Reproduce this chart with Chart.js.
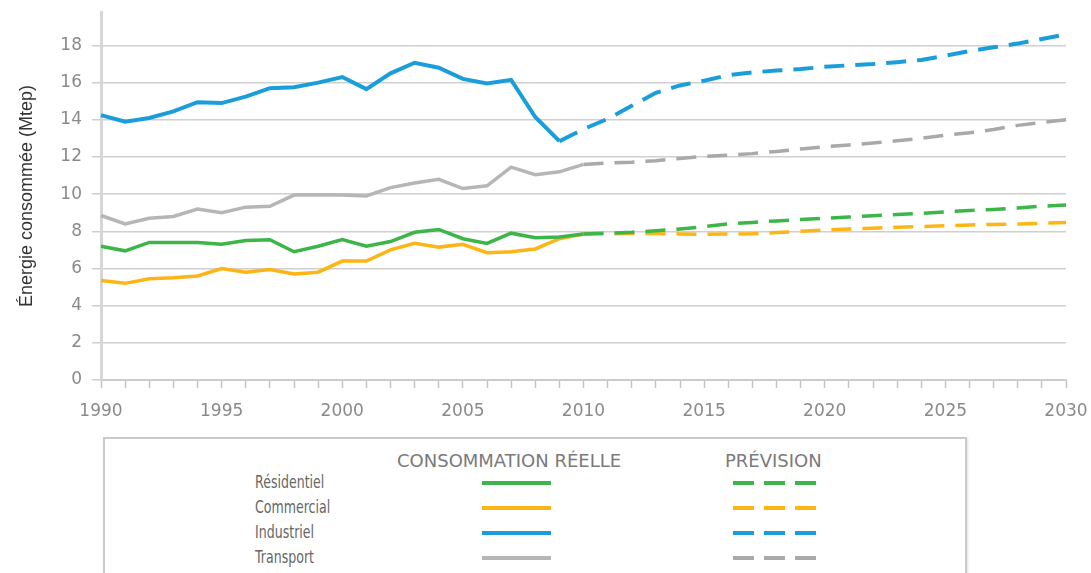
<!DOCTYPE html>
<html>
<head>
    <title>Consommation d'énergie par secteur</title>
    <script src="https://cdn.jsdelivr.net/npm/chart.js"></script>
    <style>
        body { margin: 0; width: 1091px; height: 573px; overflow: hidden; background: white; position: relative; }
        #wrap { position: absolute; left: 0; top: 0; width: 1091px; height: 430px; }
        .legende {
            position: absolute; left: 103px; top: 437px; width: 860px; height: 160px;
            border: 2px solid #cbcbcb; box-shadow: 1px 1px 2px #e0e0e0;
        }
        .entete { position: absolute; top: 450px; font-family: "DejaVu Sans"; font-size: 18px; line-height: 22px; color: #7a7a7a; white-space: nowrap; }
        .nom {
            position: absolute; left: 255px; font-family: "DejaVu Sans"; font-size: 17px; line-height: 20px;
            color: #666; white-space: nowrap; transform: scaleX(0.74); transform-origin: left center;
        }
        .trait { position: absolute; height: 4px; }
    </style>
</head>
<body>
    <div id="wrap"><canvas id="graphe" width="1091" height="430"></canvas></div>
    <div class="legende"></div>
    <div class="entete" style="left:397px">CONSOMMATION RÉELLE</div>
    <div class="entete" style="left:725px">PRÉVISION</div>
    <div id="lignes"></div>

    <script>
        // Années (axe horizontal)
        const annees = [1990, 1991, 1992, 1993, 1994, 1995, 1996, 1997, 1998, 1999,
                        2000, 2001, 2002, 2003, 2004, 2005, 2006, 2007, 2008, 2009,
                        2010, 2011, 2012, 2013, 2014, 2015, 2016, 2017, 2018, 2019,
                        2020, 2021, 2022, 2023, 2024, 2025, 2026, 2027, 2028, 2029, 2030];
        const etiquettesX = [1990, 1995, 2000, 2005, 2010, 2015, 2020, 2025, 2030];

        // Consommation réelle (Mtep), à partir de 1990
        const residentielReel = [7.2, 6.95, 7.4, 7.4, 7.4, 7.3, 7.5, 7.55, 6.9, 7.2, 7.55, 7.2, 7.45, 7.95, 8.1, 7.6, 7.35, 7.9, 7.65, 7.7, 7.85];
        const commercialReel = [5.35, 5.2, 5.45, 5.5, 5.6, 6.0, 5.8, 5.95, 5.7, 5.8, 6.4, 6.4, 7.0, 7.35, 7.15, 7.3, 6.85, 6.9, 7.05, 7.6, 7.85];
        const industrielReel = [14.25, 13.9, 14.1, 14.45, 14.95, 14.9, 15.25, 15.7, 15.75, 16.0, 16.3, 15.65, 16.5, 17.07, 16.8, 16.2, 15.95, 16.15, 14.15, 12.85];
        const transportReel = [8.85, 8.4, 8.7, 8.8, 9.2, 9.0, 9.3, 9.35, 9.95, 9.95, 9.95, 9.9, 10.35, 10.6, 10.8, 10.3, 10.45, 11.45, 11.05, 11.2, 11.6];

        // Prévisions (Mtep)
        const debutPrev = 2010;
        const debutPrevIndustriel = 2009;
        const residentielPrev = [7.85, 7.9, 7.95, 8.03, 8.13, 8.25, 8.4, 8.48, 8.56, 8.63, 8.7, 8.77, 8.84, 8.9, 8.97, 9.05, 9.12, 9.18, 9.26, 9.35, 9.42];
        const commercialPrev = [7.85, 7.87, 7.88, 7.88, 7.86, 7.84, 7.85, 7.87, 7.93, 8.0, 8.07, 8.12, 8.17, 8.22, 8.26, 8.3, 8.34, 8.37, 8.4, 8.43, 8.47];
        const industrielPrev = [12.85, 13.5, 14.05, 14.75, 15.45, 15.85, 16.1, 16.4, 16.55, 16.65, 16.73, 16.85, 16.93, 17.0, 17.1, 17.22, 17.45, 17.7, 17.9, 18.1, 18.35, 18.6];
        const transportPrev = [11.6, 11.67, 11.72, 11.8, 11.92, 12.03, 12.1, 12.18, 12.3, 12.43, 12.55, 12.65, 12.75, 12.87, 13.0, 13.17, 13.3, 13.48, 13.7, 13.85, 14.0];

        const secteurs = ['Résidentiel', 'Commercial', 'Industriel', 'Transport'];
        const couleurs = ['#3cb549', '#fdb515', '#1a9edb', '#b6b6b8'];
        const couleursPrev = ['#3cb549', '#fdb515', '#1a9edb', '#a9a9ab'];
        const tirets = [20, 11];

        // place une série sur l'axe des années
        function placer(valeurs, debut) {
            return annees.map(a => (a >= debut && a - debut < valeurs.length) ? valeurs[a - debut] : null);
        }

        const reels = [residentielReel, commercialReel, industrielReel, transportReel];
        const prevs = [residentielPrev, commercialPrev, industrielPrev, transportPrev];
        const debuts = [debutPrev, debutPrev, debutPrevIndustriel, debutPrev];

        const datasets = [];
        secteurs.forEach((s, i) => {
            datasets.push({
                label: s, data: placer(reels[i], 1990),
                borderColor: couleurs[i], borderWidth: i === 2 ? 4 : 3.5,
                pointRadius: 0, tension: 0, fill: false
            });
        });
        secteurs.forEach((s, i) => {
            datasets.push({
                label: s + ' (prévision)', data: placer(prevs[i], debuts[i]),
                borderColor: couleursPrev[i], borderWidth: i === 2 ? 4 : 3.5,
                borderDash: tirets, pointRadius: 0, tension: 0, fill: false
            });
        });

        new Chart(document.getElementById('graphe'), {
            type: 'line',
            data: { labels: annees, datasets: datasets },
            options: {
                responsive: false,
                animation: false,
                layout: { padding: { top: 12, right: 25, left: 0, bottom: 0 } },
                plugins: { legend: { display: false }, tooltip: { enabled: false } },
                scales: {
                    x: {
                        ticks: {
                            autoSkip: false, maxRotation: 0, padding: 13,
                            color: '#8a8a8a', font: { family: 'DejaVu Sans', size: 17 },
                            callback: function (v) {
                                const a = annees[v];
                                return etiquettesX.includes(a) ? String(a) : '';
                            }
                        },
                        grid: { drawOnChartArea: false, drawTicks: true, tickLength: 8, tickColor: '#c4c4c4', tickWidth: 1.5 },
                        border: { color: '#cccccc', width: 2 },
                        afterFit: function (scale) {
                            scale.height = 50;
                            scale.paddingLeft = 0;
                            scale.paddingRight = 0;
                        }
                    },
                    y: {
                        min: 0, max: 19.8,
                        ticks: {
                            stepSize: 2, padding: 10,
                            color: '#8a8a8a', font: { family: 'DejaVu Sans', size: 17 }
                        },
                        afterBuildTicks: function (scale) {
                            scale.ticks = scale.ticks.filter(t => t.value % 2 === 0);
                        },
                        grid: { color: '#cfcfcf', lineWidth: 1.5, tickLength: 9 },
                        border: { color: '#d6d6d6', width: 3 },
                        title: {
                            display: true, text: 'Énergie consommée (Mtep)',
                            color: '#333', font: { family: 'Liberation Sans', size: 18 },
                            padding: { top: 16, bottom: 0 }
                        },
                        afterFit: function (scale) {
                            scale.width = 101;
                            scale.paddingTop = 0;
                            scale.paddingBottom = 0;
                        }
                    }
                }
            }
        });

        // Légende : noms et échantillons de traits
        const lignes = document.getElementById('lignes');
        const centres = [483, 508, 533, 558];
        secteurs.forEach((s, i) => {
            const c = centres[i];
            let html = '<div class="nom" style="top:' + (c - 11) + 'px">' + s + '</div>';
            html += '<div class="trait" style="left:482px;width:69px;top:' + (c - 2) + 'px;background:' + couleurs[i] + '"></div>';
            for (let k = 0; k < 3; k++) {
                html += '<div class="trait" style="left:' + (733 + k * 31) + 'px;width:21px;top:' + (c - 2) + 'px;background:' + couleursPrev[i] + '"></div>';
            }
            lignes.insertAdjacentHTML('beforeend', html);
        });
    </script>
</body>
</html>
